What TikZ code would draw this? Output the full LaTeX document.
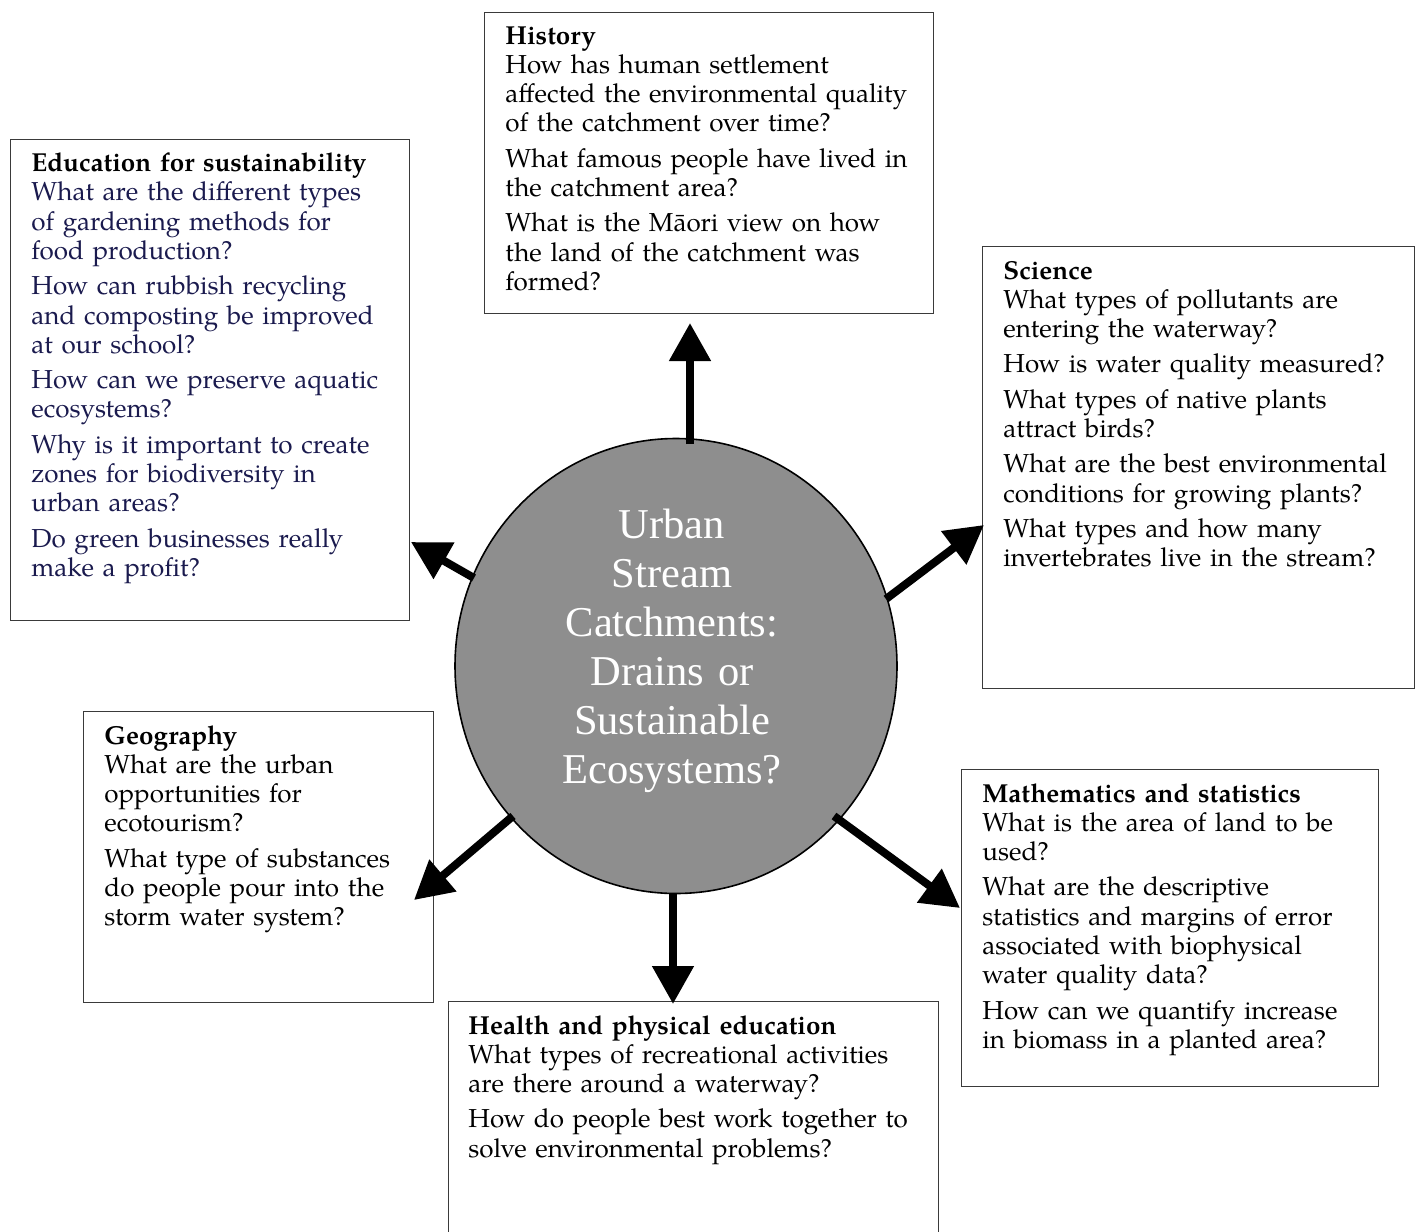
\documentclass[tikz,border=0pt]{standalone}
\usepackage{fontspec}
\setmainfont{texgyrepagella}[Extension=.otf, UprightFont=*-regular, BoldFont=*-bold, ItalicFont=*-italic, BoldItalicFont=*-bolditalic]
\newfontfamily\hubfont{Liberation Serif}
\usetikzlibrary{arrows.meta,shapes.geometric,calc}

\definecolor{navy}{HTML}{1A1A4E}
\definecolor{hubgray}{HTML}{8E8E8E}
\definecolor{framegray}{HTML}{3A3A3A}

\tikzset{
  panel/.style={draw=framegray, line width=0.7pt, fill=white, anchor=north west, inner sep=0pt},
  qtext/.style={anchor=base west, inner sep=0pt, text width=235pt, align=left,
                font=\fontsize{13}{14.65}\selectfont},
  spoke/.style={line width=4pt, -{Triangle[length=19pt,width=20pt]}},
}
\newcommand\qbreak{\\[3pt]}

\begin{document}
\begin{tikzpicture}[x=0.5pt,y=-0.5pt]
\useasboundingbox (0,0) rectangle (1420,1232);

% topic panels
\node[panel, minimum width=224.5pt, minimum height=150.5pt] (hist) at (484,12) {};
\node[panel, minimum width=199.5pt, minimum height=240.5pt] (edu) at (10,139) {};
\node[panel, minimum width=216pt, minimum height=221pt] (sci) at (982,246) {};
\node[panel, minimum width=175pt, minimum height=145.5pt] (geo) at (83,711) {};
\node[panel, minimum width=208.5pt, minimum height=158.5pt] (math) at (961,769) {};
\node[panel, minimum width=245pt, minimum height=140pt] (health) at (448,1001) {};

% panel texts
\node[qtext] (histtxt) at ($(hist.north west)+(21,32)$) {%
  \textbf{History}\\
  How has human settlement\\
  affected the environmental quality\\
  of the catchment over time?\qbreak
  What famous people have lived in\\
  the catchment area?\qbreak
  What is the Māori view on how\\
  the land of the catchment was\\
  formed?};

\node[qtext] (edutxt) at ($(edu.north west)+(21,32.5)$) {%
  \textbf{Education for sustainability}\\
  \color{navy}What are the different types\\
  of gardening methods for\\
  food production?\qbreak
  How can rubbish recycling\\
  and composting be improved\\
  at our school?\qbreak
  How can we preserve aquatic\\
  ecosystems?\qbreak
  Why is it important to create\\
  zones for biodiversity in\\
  urban areas?\qbreak
  Do green businesses really\\
  make a profit?};

\node[qtext] (scitxt) at ($(sci.north west)+(21,33)$) {%
  \textbf{Science}\\
  What types of pollutants are\\
  entering the waterway?\qbreak
  How is water quality measured?\qbreak
  What types of native plants\\
  attract birds?\qbreak
  What are the best environmental\\
  conditions for growing plants?\qbreak
  What types and how many\\
  invertebrates live in the stream?};

\node[qtext] (geotxt) at ($(geo.north west)+(21,33)$) {%
  \textbf{Geography}\\
  What are the urban\\
  opportunities for\\
  ecotourism?\qbreak
  What type of substances\\
  do people pour into the\\
  storm water system?};

\node[qtext] (mathtxt) at ($(math.north west)+(21,33)$) {%
  \textbf{Mathematics and statistics}\\
  What is the area of land to be\\
  used?\qbreak
  What are the descriptive\\
  statistics and margins of error\\
  associated with biophysical\\
  water quality data?\qbreak
  How can we quantify increase\\
  in biomass in a planted area?};

\node[qtext] (healthtxt) at ($(health.north west)+(20,33)$) {%
  \textbf{Health and physical education}\\
  What types of recreational activities\\
  are there around a waterway?\qbreak
  How do people best work together to\\
  solve environmental problems?};

% spoke end points
\coordinate (upS) at (690,444);  \coordinate (upT) at (690,323);
\coordinate (ulS) at (474,578);  \coordinate (ulT) at (411,542);
\coordinate (urS) at (886,599);  \coordinate (urT) at (984,525);
\coordinate (llS) at (513,816);  \coordinate (llT) at (414,900);
\coordinate (dnS) at (673,894);  \coordinate (dnT) at (673,1004);
\coordinate (lrS) at (834,816);  \coordinate (lrT) at (960,908);

% central theme
\node[ellipse, draw=black, line width=0.8pt, fill=hubgray, inner sep=0pt,
      minimum width=221pt, minimum height=227.5pt] (hub) at (676,666) {};

\draw[spoke] (upS) -- (upT);
\draw[spoke] (ulS) -- (ulT);
\draw[spoke] (urS) -- (urT);
\draw[spoke] (llS) -- (llT);
\draw[spoke] (dnS) -- (dnT);
\draw[spoke] (lrS) -- (lrT);

\node[anchor=base, inner sep=0pt, text width=200pt, align=center, text=white,
      font=\hubfont\fontsize{21.25}{24.5}\selectfont] (hubtxt) at (672,538)
  {Urban\\ Stream\\ Catchments:\\ Drains or\\ Sustainable\\ Ecosystems?};
\end{tikzpicture}
\end{document}
